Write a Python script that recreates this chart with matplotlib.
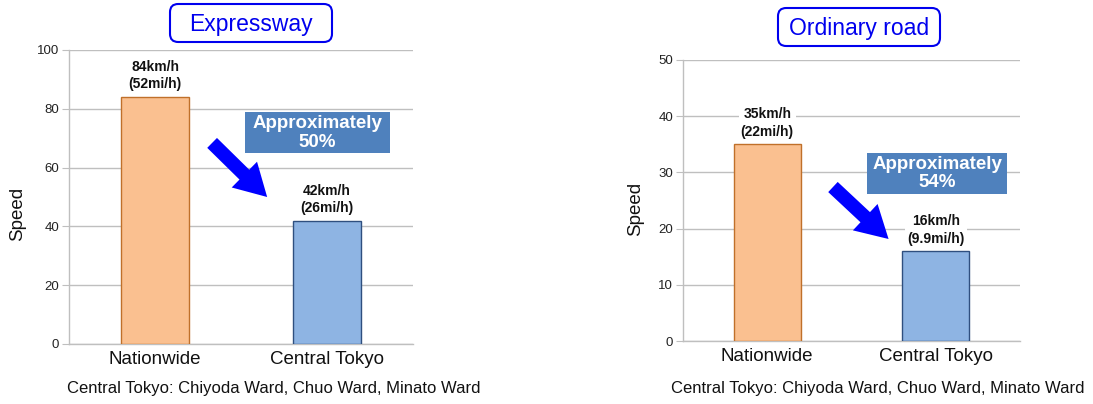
import matplotlib
matplotlib.use("Agg")
import matplotlib.pyplot as plt
from matplotlib.patches import FancyBboxPatch, Rectangle, FancyArrowPatch

plt.rcParams['font.family'] = ['Liberation Sans', 'DejaVu Sans']

# ---- data ----
categories = ["Nationwide", "Central Tokyo"]
expressway_speed = [84, 42]
expressway_labels = ["84km/h\n(52mi/h)", "42km/h\n(26mi/h)"]
ordinary_speed = [35, 16]
ordinary_labels = ["35km/h\n(22mi/h)", "16km/h\n(9.9mi/h)"]
titles = ["Expressway", "Ordinary road"]
reductions = ["Approximately\n50%", "Approximately\n54%"]
footnote = "Central Tokyo: Chiyoda Ward, Chuo Ward, Minato Ward"
ylabel = "Speed"
expressway_ticks = [0, 20, 40, 60, 80, 100]
ordinary_ticks = [0, 10, 20, 30, 40, 50]

bar_face = ["#FAC090", "#8EB4E3"]
bar_edge = ["#C0702A", "#2F4F7F"]
grid_c = "#BFBFBF"
box_blue = "#4F81BD"
title_blue = "#0000EE"

fig = plt.figure(figsize=(10.93, 4.04), dpi=100)

def panel(rect, values, labels, ticks, title_box, title_text_pos, title,
          red_rect, red_text_pos, red_text, arrow, foot_x, speed_pos):
    ax = fig.add_axes(rect)
    x = range(len(categories))
    ax.bar(x, values, width=0.40, color=bar_face, edgecolor=bar_edge,
           linewidth=1.0, zorder=3)
    ax.set_xlim(-0.5, 1.5)
    ax.set_ylim(ticks[0], ticks[-1])
    ax.set_yticks(ticks)
    ax.set_xticks(list(x))
    ax.set_xticklabels(categories, fontsize=13.5, color="#111111")
    ax.tick_params(axis='x', length=0, pad=5)
    ax.tick_params(axis='y', length=5, color=grid_c, labelsize=9.5,
                   labelcolor="#222222", pad=2)
    ax.yaxis.grid(True, color=grid_c, linewidth=1.0, zorder=0)
    for s in ['top', 'right']:
        ax.spines[s].set_visible(False)
    for s in ['left', 'bottom']:
        ax.spines[s].set_color(grid_c)
        ax.spines[s].set_linewidth(1.0)
    for xi, v, lab in zip(x, values, labels):
        ax.annotate(lab, (xi, v), xytext=(0, 4), textcoords='offset points',
                    ha='center', va='bottom', fontsize=10, fontweight='bold',
                    linespacing=1.3, color="#111111", zorder=4,
                    bbox=dict(boxstyle='square,pad=0.15', fc='white', ec='none'))
    # reduction box
    ax.add_patch(Rectangle(red_rect[:2], red_rect[2], red_rect[3],
                           transform=ax.transAxes, facecolor=box_blue,
                           edgecolor='none', zorder=5, clip_on=False))
    ax.text(red_text_pos[0], red_text_pos[1], red_text, transform=ax.transAxes,
            ha='center', va='center', color='white', fontsize=13.5,
            fontweight='bold', linespacing=1.15, zorder=6)
    # arrow
    ax.add_patch(FancyArrowPatch(arrow[0], arrow[1], transform=ax.transAxes,
                                 arrowstyle="simple,head_width=26,head_length=23,tail_width=10",
                                 mutation_scale=1, color="#0000FF", lw=0,
                                 shrinkA=0, shrinkB=0, zorder=6, clip_on=False))
    # title box
    fig.patches.append(FancyBboxPatch(title_box[:2], title_box[2], title_box[3],
                                      boxstyle="round,pad=0,rounding_size=0.0075",
                                      transform=fig.transFigure,
                                      facecolor='white', edgecolor=title_blue,
                                      linewidth=1.5, mutation_aspect=1093 / 404))
    fig.text(title_text_pos[0], title_text_pos[1], title, ha='center',
             va='center', fontsize=16.5, color=title_blue)
    fig.text(foot_x, 15 / 404, footnote, ha='left', va='center', fontsize=12,
             color="#111111")
    fig.text(speed_pos[0], speed_pos[1], ylabel, rotation=90, ha='center',
             va='center', fontsize=13.5, color="#111111")
    return ax

panel([69 / 1093, 60 / 404, 344 / 1093, 294 / 404],
      expressway_speed, expressway_labels, expressway_ticks,
      [170 / 1093, 362 / 404, 162 / 1093, 38 / 404], [251 / 1093, 380 / 404],
      titles[0],
      [0.512, 0.650, 0.4215, 0.139], [0.722, 0.719], reductions[0],
      [(0.416, 0.684), (0.576, 0.500)], 67 / 1093, [18 / 1093, 190 / 404])

panel([683 / 1093, 63 / 404, 337 / 1093, 281 / 404],
      ordinary_speed, ordinary_labels, ordinary_ticks,
      [778 / 1093, 358 / 404, 162 / 1093, 38 / 404], [859 / 1093, 376 / 404],
      titles[1],
      [0.546, 0.523, 0.415, 0.146], [0.754, 0.596], reductions[1],
      [(0.445, 0.548), (0.610, 0.363)], 671 / 1093, [636 / 1093, 195 / 404])

fig.savefig("out.png", dpi=100)
